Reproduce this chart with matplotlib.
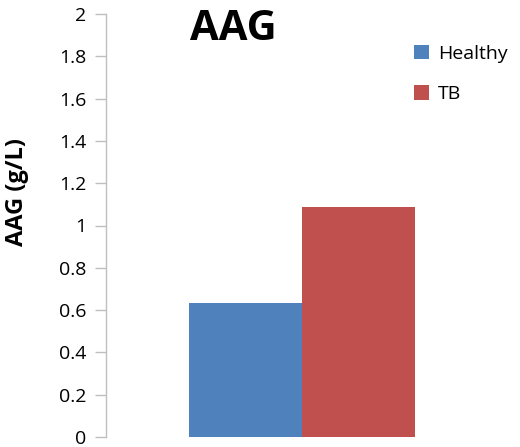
import matplotlib.pyplot as plt
from matplotlib.patches import Patch

plt.rcParams['font.family'] = ['Open Sans', 'DejaVu Sans']

groups = ['Healthy', 'TB']
values = [0.635, 1.087]
colors = ['#4f81bd', '#c0504d']
yticks = [0, 0.2, 0.4, 0.6, 0.8, 1, 1.2, 1.4, 1.6, 1.8, 2]
ytick_labels = ['0', '0.2', '0.4', '0.6', '0.8', '1', '1.2', '1.4', '1.6', '1.8', '2']

fig = plt.figure(figsize=(5.2, 4.47), dpi=100)
ax = fig.add_axes([106 / 520, 10 / 447, 392 / 520, 423 / 447])

width = 0.2875
offsets = [-width / 2, width / 2]
for g, v, c, off in zip(groups, values, colors, offsets):
    ax.bar(0 + off, v, width=width, color=c, label=g)

ax.set_xlim(-0.5, 0.5)
ax.set_ylim(0, 2)
ax.set_yticks(yticks)
ax.set_yticklabels(ytick_labels, fontsize=14)
ax.set_xticks([])
ax.tick_params(axis='y', length=8, width=1, color='#bfbfbf', pad=6)

for s in ['top', 'right', 'bottom']:
    ax.spines[s].set_visible(False)
ax.spines['left'].set_color('#bfbfbf')
ax.spines['left'].set_linewidth(1)

ax.set_ylabel('AAG (g/L)', fontsize=17, fontweight='bold')
ax.yaxis.set_label_coords(-0.196, 0.58)

fig.text(233 / 520, 1 - 29 / 447, 'AAG', fontsize=30, fontweight='bold',
         ha='center', va='center')

handles = [Patch(facecolor=c) for c in colors]
fig.legend(handles, groups, loc='upper left', bbox_to_anchor=(396 / 520, 1 - 27 / 447),
           frameon=False, fontsize=14, handlelength=0.8, handleheight=0.8,
           handletextpad=0.45, labelspacing=1.15)

fig.savefig('out.png', dpi=100)
